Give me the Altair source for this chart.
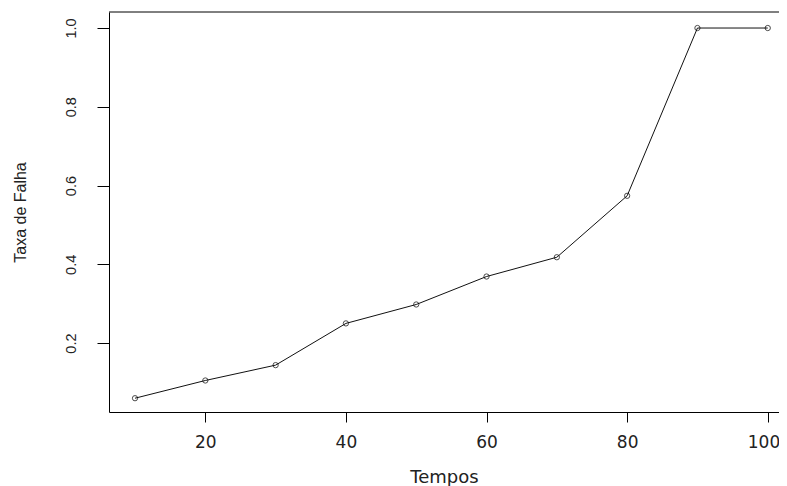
import altair as alt
import pandas as pd

tempos = [10, 20, 30, 40, 50, 60, 70, 80, 90, 100]
taxa = [0.060, 0.105, 0.144, 0.250, 0.298, 0.369, 0.418, 0.574, 1.0, 1.0]
x_ticks = [20, 40, 60, 80, 100]
y_ticks = [0.2, 0.4, 0.6, 0.8, 1.0]

df = pd.DataFrame({"Tempos": tempos, "Taxa": taxa})

W, H = 670, 400

x_enc = alt.X(
    "Tempos:Q",
    scale=alt.Scale(domain=[6.3, 101.6], nice=False, zero=False),
    axis=alt.Axis(
        values=x_ticks, title="Tempos", grid=False,
        tickSize=10, labelPadding=20, labelBaseline="middle",
        labelAlign={"expr": "datum.value == 100 ? 'right' : 'center'"},
        labelOffset={"expr": "datum.value == 100 ? 12 : 0"},
        labelFont="DejaVu Sans", labelFontSize=17, labelColor="#222",
        titleFont="DejaVu Sans", titleFontSize=18, titleFontWeight="normal",
        titleColor="#222", titleY=65, titleBaseline="middle",
        domainColor="black", tickColor="black",
    ),
)
y_enc = alt.Y(
    "Taxa:Q",
    scale=alt.Scale(domain=[0.025, 1.0407], nice=False, zero=False),
    axis=alt.Axis(
        values=y_ticks, format=".1f", title="Taxa de Falha", grid=False,
        tickSize=12, labelPadding=19, labelAngle=-90, labelAlign="center",
        labelBaseline="bottom",
        labelFont="Liberation Sans", labelFontSize=14.5, labelColor="#222",
        titleFont="Liberation Sans", titleFontSize=16, titleFontWeight="normal",
        titleColor="#222", titleX=-89, titleY=H / 2, titleAngle=-90,
        titleAlign="center", titleBaseline="middle",
        domainColor="black", tickColor="black",
    ),
)

base = alt.Chart(df)
line = base.mark_line(color="#111", strokeWidth=1).encode(x=x_enc, y=y_enc)
pts = base.mark_point(shape="circle", filled=False, color="black", size=28, strokeWidth=1).encode(x=x_enc, y=y_enc)
top = alt.Chart(pd.DataFrame({"a": [0]})).mark_rule(color="black", strokeWidth=1).encode(
    x=alt.value(0), x2=alt.value(W), y=alt.value(0)
)

chart = (
    alt.layer(line, pts, top)
    .properties(
        width=W, height=H,
        autosize=alt.AutoSizeParams(type="none"),
        padding={"left": 101, "top": 4, "right": 0, "bottom": 74},
        background="white",
    )
    .configure_view(stroke=None)
)

chart.save("out.html", embed_options={"renderer": "svg", "actions": False})
